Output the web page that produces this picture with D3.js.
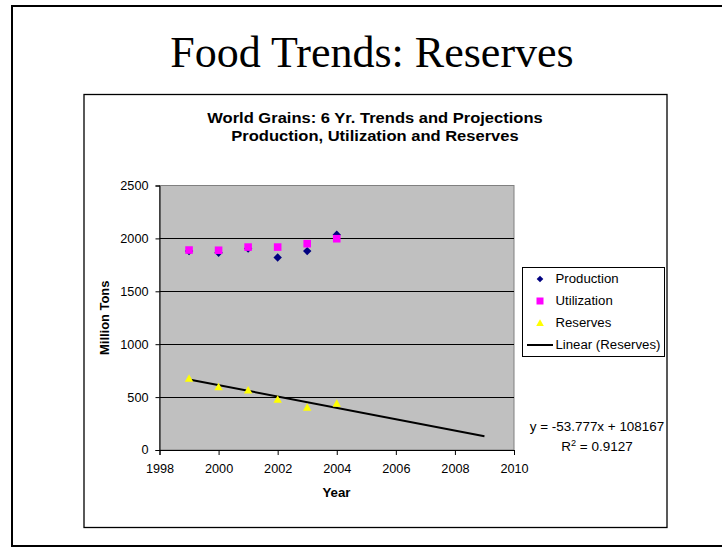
<!DOCTYPE html>
<html><head><meta charset="utf-8">
<script src="https://cdn.jsdelivr.net/npm/d3@7"></script>
<style>html,body{margin:0;padding:0;background:#fff;overflow:hidden}</style>
</head><body>
<svg id="c" width="722" height="548"></svg>
<script>
const years = [1999, 2000, 2001, 2002, 2003, 2004];
const production = [1880, 1865, 1905, 1820, 1880, 2035];
const utilization = [1890, 1888, 1918, 1918, 1950, 1997];
const reserves = [676, 597, 566, 478, 403, 440];
const trendYears = [1999, 2009];
const trendSlope = -53.777, trendIntercept = 108167;
const xTicks = [1998, 2000, 2002, 2004, 2006, 2008, 2010];
const yTicks = [0, 500, 1000, 1500, 2000, 2500];
const legendLabels = ["Production", "Utilization", "Reserves", "Linear (Reserves)"];

const svg = d3.select("#c");
const af = "Liberation Sans, Arial, sans-serif";
// stretch text horizontally (chart text in the reference is wider than plain Arial)
function stretch(sel, k) {
  sel.each(function () {
    const n = this, w = n.getComputedTextLength();
    n.setAttribute("textLength", w * k);
    n.setAttribute("lengthAdjust", "spacingAndGlyphs");
  });
  return sel;
}

// outer slide frame
svg.append("rect").attr("x", 12).attr("y", 6).attr("width", 720).attr("height", 540)
  .attr("fill", "none").attr("stroke", "#000").attr("stroke-width", 2);
svg.append("text").attr("x", 372).attr("y", 67).attr("text-anchor", "middle")
  .attr("font-family", "Liberation Serif, Times New Roman, serif").attr("font-size", 44)
  .text("Food Trends: Reserves");
// chart frame
svg.append("rect").attr("x", 84).attr("y", 94.5).attr("width", 583).attr("height", 433)
  .attr("fill", "#fff").attr("stroke", "#000").attr("stroke-width", 1.3);
stretch(svg.append("text").attr("x", 375).attr("y", 122.5).attr("text-anchor", "middle")
  .attr("font-family", af).attr("font-weight", "bold").attr("font-size", 15.3)
  .text("World Grains: 6 Yr. Trends and Projections"), 1.08);
stretch(svg.append("text").attr("x", 375).attr("y", 141).attr("text-anchor", "middle")
  .attr("font-family", af).attr("font-weight", "bold").attr("font-size", 15.3)
  .text("Production, Utilization and Reserves"), 1.08);

const L = 159.5, R = 514, T = 185.5, B = 450;
const x = d3.scaleLinear().domain([1998, 2010]).range([L, R]);
const y = d3.scaleLinear().domain([0, 2500]).range([B, T]);

svg.append("rect").attr("x", L).attr("y", T).attr("width", R - L).attr("height", B - T)
  .attr("fill", "#C0C0C0").attr("stroke", "#808080").attr("stroke-width", 1);
// gridlines
svg.append("g").selectAll("line").data(yTicks.filter(d => d > 0 && d < 2500)).join("line")
  .attr("x1", L).attr("x2", R).attr("y1", d => Math.round(y(d)) + 0.5).attr("y2", d => Math.round(y(d)) + 0.5)
  .attr("stroke", "#000").attr("stroke-width", 1);

const yAxis = svg.append("g").attr("transform", `translate(${L},0)`)
  .call(d3.axisLeft(y).tickValues(yTicks).tickSize(4).tickPadding(7).tickFormat(d3.format("d")));
const xAxis = svg.append("g").attr("transform", `translate(0,${B})`)
  .call(d3.axisBottom(x).tickValues(xTicks).tickSize(5).tickPadding(9).tickFormat(d3.format("d")));
[yAxis, xAxis].forEach(g => {
  g.selectAll("text").attr("font-family", af).attr("font-size", 12.3).attr("fill", "#000");
  g.select(".domain").attr("stroke", "#000");
  g.selectAll(".tick line").attr("stroke", "#000");
});
stretch(yAxis.selectAll("text"), 1.03);
stretch(xAxis.selectAll("text"), 1.03);

stretch(svg.append("text").attr("x", 336.5).attr("y", 497).attr("text-anchor", "middle")
  .attr("font-family", af).attr("font-weight", "bold").attr("font-size", 12.3).text("Year"), 1.08);
stretch(svg.append("text").attr("transform", `translate(109,${(T + B) / 2}) rotate(-90)`).attr("text-anchor", "middle")
  .attr("font-family", af).attr("font-weight", "bold").attr("font-size", 12.3).text("Million Tons"), 1.05);

// trendline
svg.append("line")
  .attr("x1", x(trendYears[0])).attr("y1", y(trendSlope * trendYears[0] + trendIntercept))
  .attr("x2", x(trendYears[1])).attr("y2", y(trendSlope * trendYears[1] + trendIntercept))
  .attr("stroke", "#000").attr("stroke-width", 2);

const diamondP = s => `M0,${-s}L${s},0L0,${s}L${-s},0Z`;
const squareP = s => `M${-s},${-s}H${s}V${s}H${-s}Z`;
const triP = s => `M0,${-s}L${s},${s * 0.8}H${-s}Z`;

svg.append("g").selectAll("path").data(years).join("path")
  .attr("d", diamondP(4.2)).attr("transform", (d, i) => `translate(${x(d)},${y(production[i])})`).attr("fill", "#000080");
svg.append("g").selectAll("path").data(years).join("path")
  .attr("d", squareP(3.8)).attr("transform", (d, i) => `translate(${x(d)},${y(utilization[i])})`).attr("fill", "#FF00FF");
svg.append("g").selectAll("path").data(years).join("path")
  .attr("d", triP(4.2)).attr("transform", (d, i) => `translate(${x(d)},${y(reserves[i])})`).attr("fill", "#FFFF00");

// legend
const lg = svg.append("g");
lg.append("rect").attr("x", 522.5).attr("y", 267.5).attr("width", 142).attr("height", 89)
  .attr("fill", "#fff").attr("stroke", "#000").attr("stroke-width", 1);
const ly = [279, 301, 323, 345];
lg.append("path").attr("d", diamondP(3.3)).attr("transform", `translate(540,${ly[0]})`).attr("fill", "#000080");
lg.append("path").attr("d", squareP(3.5)).attr("transform", `translate(540,${ly[1]})`).attr("fill", "#FF00FF");
lg.append("path").attr("d", triP(3.8)).attr("transform", `translate(540,${ly[2]})`).attr("fill", "#FFFF00");
lg.append("line").attr("x1", 527).attr("x2", 553).attr("y1", ly[3]).attr("y2", ly[3]).attr("stroke", "#000").attr("stroke-width", 2);
legendLabels.forEach((t, i) => {
  stretch(lg.append("text").attr("x", 555.5).attr("y", ly[i] + 4.2).attr("font-family", af).attr("font-size", 12)
    .text(t), 1.1);
});

// equation
stretch(svg.append("text").attr("x", 597).attr("y", 431).attr("text-anchor", "middle")
  .attr("font-family", af).attr("font-size", 12).text("y = -53.777x + 108167"), 1.12);
const r2 = svg.append("text").attr("x", 597).attr("y", 450.5).attr("text-anchor", "middle")
  .attr("font-family", af).attr("font-size", 12.5);
r2.append("tspan").text("R");
r2.append("tspan").attr("dy", -5).attr("font-size", 8.5).text("2");
r2.append("tspan").attr("dy", 5).text(" = 0.9127");
stretch(r2, 1.08);
</script>
</body></html>
